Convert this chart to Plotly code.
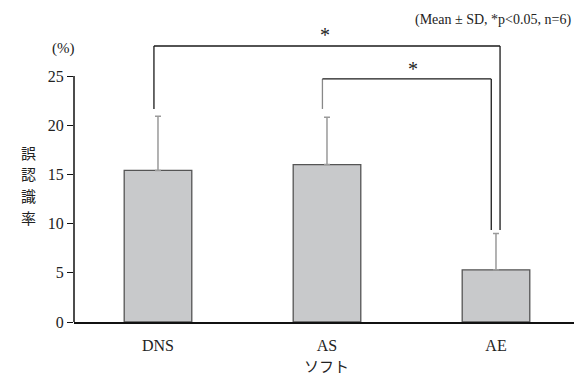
import plotly.graph_objects as go

categories = ["DNS", "AS", "AE"]
means = [15.4, 16.0, 5.3]
sd = [5.5, 4.8, 3.7]
yticks = [0, 5, 10, 15, 20, 25]
ytitle = "誤認識率"

W, H = 574, 377
ML, MB, MT = 74, 55, 0
plot_h = H - MB - MT
px_per_unit = 246 / 25.0
ymax = plot_h / px_per_unit
plot_w = W - ML
px_per_cat = 169.0
xmin = -0.497
xmax = xmin + plot_w / px_per_cat

fig = go.Figure()
fig.add_trace(go.Bar(
    x=list(range(len(categories))), y=means, width=0.4,
    marker=dict(color="#c8c9cb", line=dict(color="#555555", width=1.3)),
    error_y=dict(type="data", symmetric=False, array=sd,
                 arrayminus=[0] * len(sd), color="#9a9a9a", thickness=1.5, width=3),
))

tops = [m + s for m, s in zip(means, sd)]
line = dict(color="#1a1a1a", width=1.3)
off = -0.024
# outer bracket DNS - AE
y_outer = 28.05
fig.add_shape(type="line", x0=0 + off, x1=0 + off, y0=tops[0] + 0.75, y1=y_outer, line=line)
fig.add_shape(type="line", x0=0 + off, x1=2 + off + 0.048, y0=y_outer, y1=y_outer, line=line)
fig.add_shape(type="line", x0=2 + 0.024, x1=2 + 0.024, y0=y_outer, y1=tops[2] + 0.35, line=line)
# inner bracket AS - AE
y_inner = 24.7
fig.add_shape(type="line", x0=1 + off - 0.003, x1=1 + off - 0.003, y0=tops[1] + 0.85, y1=y_inner,
              line=dict(color="#888888", width=1.3))
fig.add_shape(type="line", x0=1 + off - 0.003, x1=2 - 0.028, y0=y_inner, y1=y_inner, line=line)
fig.add_shape(type="line", x0=2 - 0.028, x1=2 - 0.028, y0=y_inner, y1=tops[2] + 0.35, line=line)
# y axis line only to 25
fig.add_shape(type="line", xref="paper", x0=0, x1=0, y0=0, y1=yticks[-1],
              line=dict(color="#111111", width=1.5))

serif = "Liberation Serif"
cjk = "Noto Sans CJK JP"
fig.add_annotation(x=0.988, y=29.2, text="*", showarrow=False,
                   font=dict(family=serif, size=20, color="#222"))
fig.add_annotation(x=1.51, y=25.7, text="*", showarrow=False,
                   font=dict(family=serif, size=20, color="#222"))
fig.add_annotation(xref="paper", x=(573 - ML) / plot_w, y=(plot_h - 20) / px_per_unit,
                   text="(Mean ± SD, *p<0.05, n=6)", showarrow=False, xanchor="right",
                   font=dict(family=serif, size=14, color="#222"))
fig.add_annotation(xref="paper", x=(50 - ML) / plot_w, y=(plot_h - 48) / px_per_unit,
                   text="(%)", showarrow=False,
                   font=dict(family=serif, size=15, color="#222"))
for i, ch in enumerate(ytitle):
    fig.add_annotation(xref="paper", x=(20 - ML) / plot_w,
                       y=(plot_h - (152 + 21.7 * i)) / px_per_unit,
                       text=ch, showarrow=False, borderpad=0,
                       font=dict(family=cjk, size=15, color="#222"))
fig.add_annotation(xref="x", yref="paper", x=1, y=-(365 - plot_h) / plot_h,
                   text="ソフト", showarrow=False, yanchor="middle",
                   font=dict(family=cjk, size=15, color="#222"))

fig.update_layout(
    width=W, height=H, margin=dict(l=ML, r=0, t=MT, b=MB),
    paper_bgcolor="white", plot_bgcolor="white", showlegend=False,
    xaxis=dict(range=[xmin, xmax], tickvals=list(range(len(categories))), ticktext=categories,
               showline=True, linecolor="#111111", linewidth=1.5, showgrid=False, zeroline=False,
               ticks="outside", ticklen=8, tickcolor="rgba(0,0,0,0)",
               tickfont=dict(family=serif, size=16, color="#222")),
    yaxis=dict(range=[0, ymax], tickvals=yticks, showline=False, showgrid=False, zeroline=False,
               ticks="outside", ticklen=6, tickcolor="#111111", tickwidth=1.3,
               tickfont=dict(family=serif, size=16, color="#222")),
)
fig.write_html("out.html")
